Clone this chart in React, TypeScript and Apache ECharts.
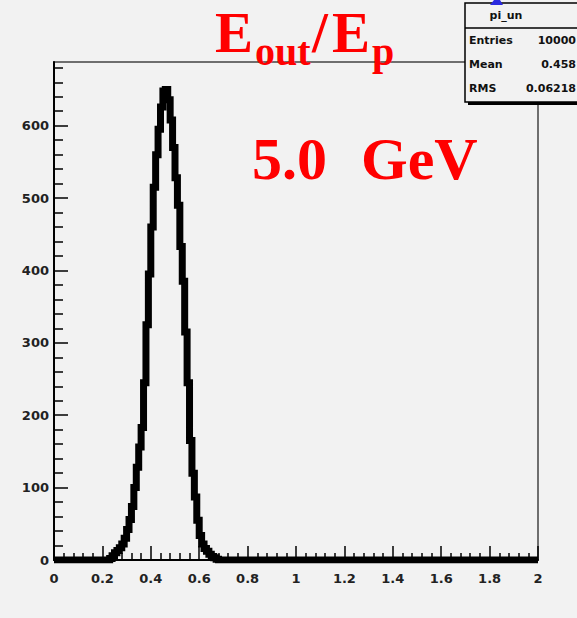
import { useEffect, useRef } from "react";
import * as echarts from "echarts";

// Histogram (ROOT TH1, 0.01 wide bins): bin lower edges start at binStart
const binStart = 0.23;
const binWidth = 0.01;
const counts = [
  2, 6, 10, 13, 17, 22, 30, 42, 56, 74,
  100, 128, 156, 183, 245, 325, 395, 460, 515, 560,
  595, 626, 648, 650, 636, 608, 570, 528, 490, 433,
  385, 315, 245, 165, 120, 87, 55, 34, 22, 16,
  12, 8, 5, 3, 1,
];

const xMin = 0;
const xMax = 2;
const xStep = 0.2;
const yMax = 688;
const yMajorTicks = [0, 100, 200, 300, 400, 500, 600];
const yMinorTicks = [
  20, 40, 60, 80, 120, 140, 160, 180, 220, 240, 260, 280, 320, 340, 360, 380,
  420, 440, 460, 480, 520, 540, 560, 580, 620, 640, 660, 680,
];

const statsName = "pi_un";
const statsLabels = ["Entries", "Mean", "RMS"];
const statsValues = ["10000", "0.458", "0.06218"];

const titleE1 = "E";
const titleSub1 = "out";
const titleSlash = "/";
const titleE2 = "E";
const titleSub2 = "p";
const energyValue = "5.0";
const energyUnit = "GeV";

export default function App() {
  const ref = useRef<HTMLDivElement>(null);

  useEffect(() => {
    if (!ref.current) return;
    const chart = echarts.init(ref.current, undefined, { renderer: "svg" });

    const data: number[][] = [[xMin, 0]];
    counts.forEach((c, i) => data.push([+(binStart + i * binWidth).toFixed(4), c]));
    data.push([+(binStart + counts.length * binWidth).toFixed(4), 0]);
    data.push([xMax, 0]);

    const labelStyle = {
      fontFamily: "DejaVu Sans",
      fontWeight: "bold" as const,
      fontSize: 13,
      color: "#222",
    };

    const red = "#ff0000";
    const serifBig = 'bold 57px "Liberation Serif"';
    const serifSub = 'bold 40px "Liberation Serif"';
    const serifEnergy = 'bold 60px "Liberation Serif"';
    const statFont = 'bold 11px "DejaVu Sans"';

    const txt = (
      text: string,
      x: number,
      y: number,
      font: string,
      fill: string,
      align = "left",
      lineHeight?: number
    ) => ({
      type: "text",
      x,
      y,
      z: 100,
      style: {
        text,
        font,
        fill,
        align,
        textAlign: align,
        verticalAlign: "middle",
        textVerticalAlign: "middle",
        ...(lineHeight ? { lineHeight } : {}),
      },
    });

    const statsRowsY = [40, 64, 88];

    const option: any = {
      animation: false,
      backgroundColor: "#f2f2f2",
      grid: {
        left: 54,
        right: 39,
        top: 62,
        bottom: 58,
        show: true,
        borderColor: "#444",
        borderWidth: 1.5,
        backgroundColor: "transparent",
      },
      xAxis: {
        type: "value",
        min: xMin,
        max: xMax,
        interval: xStep,
        axisLine: { show: true, onZero: false, lineStyle: { color: "#000", width: 2 } },
        axisTick: { show: true, inside: true, length: 14, lineStyle: { color: "#000", width: 1.5 } },
        minorTick: { show: true, splitNumber: 5, length: 7, lineStyle: { color: "#000", width: 1.5 } },
        splitLine: { show: false },
        minorSplitLine: { show: false },
        axisLabel: { ...labelStyle, margin: 12 },
      },
      yAxis: [
        {
          type: "value",
          min: 0,
          max: yMax,
          interval: 100,
          axisLine: { show: true, onZero: false, lineStyle: { color: "#000", width: 2 } },
          axisTick: {
            show: true,
            inside: true,
            length: 14,
            customValues: yMajorTicks,
            lineStyle: { color: "#000", width: 1.5 },
          },
          axisLabel: { ...labelStyle, margin: 5, customValues: yMajorTicks },
          splitLine: { show: false },
        },
        {
          type: "value",
          min: 0,
          max: yMax,
          position: "left",
          axisLine: { show: false },
          axisTick: {
            show: true,
            inside: true,
            length: 9,
            customValues: yMinorTicks,
            lineStyle: { color: "#000", width: 1.5 },
          },
          axisLabel: { show: false },
          splitLine: { show: false },
        },
      ],
      series: [
        {
          type: "line",
          data,
          step: "end",
          symbol: "none",
          clip: true,
          lineStyle: { color: "#000", width: 7, join: "miter" },
        },
      ],
      graphic: [
        // stats box
        { type: "rect", z: 90, shape: { x: 468, y: 6, width: 130, height: 99 }, style: { fill: "#000" } },
        {
          type: "rect",
          z: 91,
          shape: { x: 465, y: 3, width: 130, height: 99 },
          style: { fill: "#f2f2f2", stroke: "#000", lineWidth: 1.5 },
        },
        { type: "line", z: 92, shape: { x1: 465, y1: 28, x2: 577, y2: 28 }, style: { stroke: "#000", lineWidth: 1.5 } },
        txt(statsName, 506, 15, statFont, "#111", "center"),
        ...statsLabels.map((l, i) => txt(l, 469, statsRowsY[i], statFont, "#111", "left")),
        ...statsValues.map((v, i) => txt(v, 576, statsRowsY[i], statFont, "#111", "right")),
        // small blue mark at top
        {
          type: "polygon",
          z: 95,
          shape: { points: [[490, 5], [494, 0], [500, 0], [503, 5]] },
          style: { fill: "#2a2ae0" },
        },
        // title
        txt(titleE1, 215, 32, serifBig, red, "left", 44),
        txt(titleSub1, 255, 51, serifSub, red, "left", 30),
        txt(titleSlash, 312, 32, serifBig, red, "left", 44),
        txt(titleE2, 332, 32, serifBig, red, "left", 44),
        txt(titleSub2, 372, 51, serifSub, red, "left", 30),
        txt(energyValue, 252, 159, serifEnergy, red, "left", 44),
        txt(energyUnit, 361, 159, serifEnergy, red, "left", 44),
      ],
    };

    chart.setOption(option);
    return () => chart.dispose();
  }, []);

  return (
    <div
      ref={ref}
      style={{ position: "fixed", left: 0, top: 0, width: 577, height: 618, background: "#f2f2f2" }}
    />
  );
}
